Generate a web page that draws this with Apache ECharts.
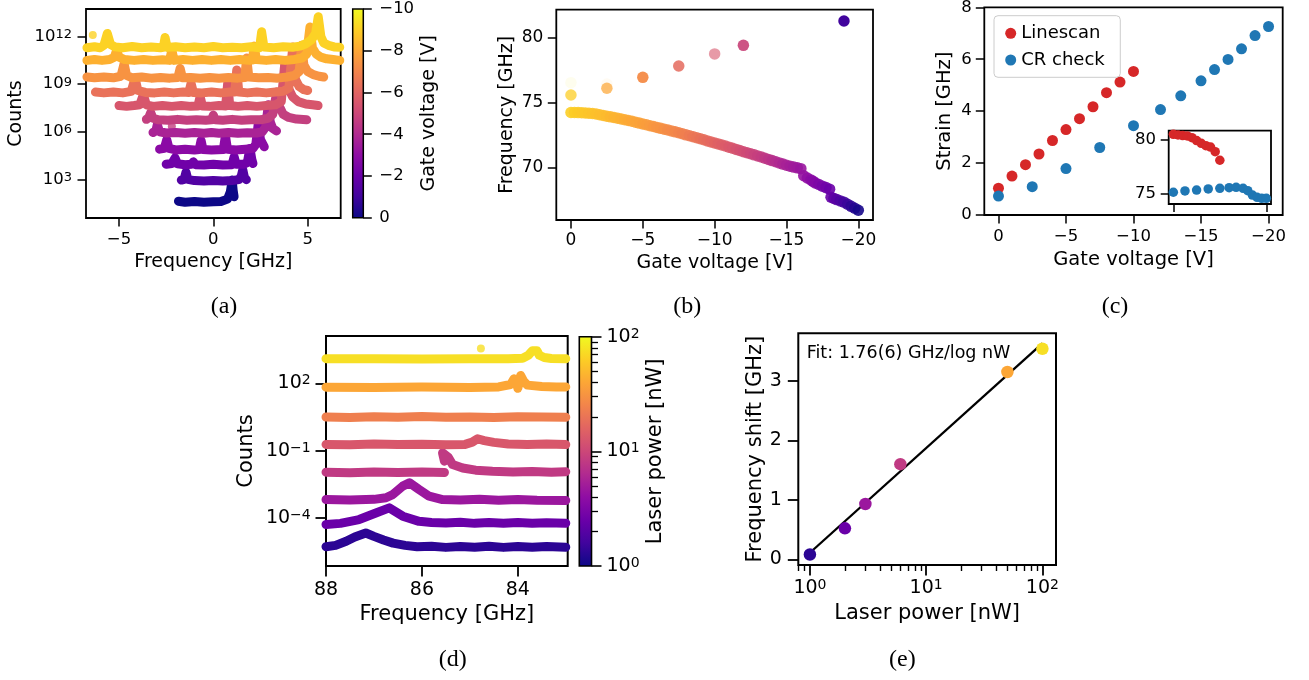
<!DOCTYPE html>
<html><head><meta charset="utf-8">
<script src="https://cdn.jsdelivr.net/npm/echarts@6/dist/echarts.min.js"></script>
<style>html,body{margin:0;padding:0;background:#fff}#c{width:1309px;height:680px}</style>
</head><body><div id="c"></div><script>
// ---------------- DATA ----------------
// (a) spectra: gate voltage per trace (top -> bottom), points [frequency GHz, log10(counts)]
const aGateV = [-10, -9, -8, -7, -6, -5, -4, -3, -2, -1, 0];
const aTraces = [
 [[-6.7,11.3],[-6.3,11.36],[-6.0,11.3],[-5.8,11.45],[-5.62,12.2],[-5.45,11.5],[-5.2,11.35],[-4.8,11.3],[-4.3,11.37],[-3.8,11.3],[-3.3,11.34],[-2.8,11.3],[-2.65,11.32],[-2.56,11.95],[-2.45,11.32],[-2.0,11.36],[-1.5,11.3],[-1.0,11.35],[-0.5,11.3],[0,11.37],[0.5,11.3],[1.0,11.33],[1.5,11.3],[2.0,11.36],[2.45,11.3],[2.56,12.3],[2.68,11.35],[3.2,11.3],[3.7,11.36],[4.2,11.33],[4.6,11.4],[4.9,11.55],[5.2,11.8],[5.42,12.2],[5.56,13.25],[5.7,12.0],[5.85,11.6],[6.1,11.45],[6.4,11.35],[6.7,11.33]],
 [[-6.7,10.5],[-6.3,10.56],[-5.9,10.5],[-5.5,10.55],[-5.25,10.7],[-5.12,11.15],[-5.0,10.7],[-4.7,10.55],[-4.2,10.5],[-3.7,10.56],[-3.2,10.5],[-2.7,10.54],[-2.32,10.5],[-2.2,11.15],[-2.08,10.5],[-1.6,10.55],[-1.1,10.5],[-0.6,10.55],[-0.1,10.5],[0.4,10.55],[0.9,10.5],[1.4,10.55],[1.9,10.5],[2.06,10.52],[2.17,11.4],[2.28,10.55],[2.8,10.5],[3.3,10.55],[3.8,10.5],[4.3,10.56],[4.7,10.65],[4.95,10.9],[5.12,12.6],[5.25,11.3],[5.45,10.9],[5.7,10.7],[6.0,10.6],[6.35,10.55],[6.7,10.5]],
 [[-6.7,9.45],[-6.3,9.4],[-5.8,9.45],[-5.3,9.4],[-4.9,9.5],[-4.73,10.3],[-4.6,9.55],[-4.3,9.4],[-3.8,9.45],[-3.3,9.38],[-2.8,9.42],[-2.3,9.38],[-1.88,9.42],[-1.76,10.0],[-1.64,9.4],[-1.2,9.42],[-0.7,9.38],[-0.2,9.42],[0.3,9.38],[0.8,9.42],[1.3,9.38],[1.66,9.42],[1.77,10.65],[1.88,9.45],[2.4,9.4],[2.9,9.42],[3.4,9.38],[3.9,9.45],[4.3,9.55],[4.55,9.8],[4.68,11.45],[4.8,10.2],[5.0,9.8],[5.3,9.6],[5.6,9.5],[5.85,9.45]],
 [[-6.25,8.5],[-5.8,8.45],[-5.3,8.5],[-4.8,8.45],[-4.35,8.55],[-4.15,9.38],[-4.0,8.6],[-3.6,8.48],[-3.1,8.45],[-2.6,8.5],[-2.1,8.45],[-1.6,8.5],[-1.3,8.48],[-1.18,9.06],[-1.06,8.48],[-0.6,8.45],[-0.1,8.5],[0.4,8.45],[0.9,8.5],[1.13,8.5],[1.24,9.9],[1.35,8.5],[1.8,8.45],[2.3,8.5],[2.8,8.45],[3.3,8.5],[3.7,8.55],[4.0,8.75],[4.21,11.35],[4.35,9.3],[4.55,8.85],[4.8,8.65],[5.0,8.6]],
 [[-5.0,7.65],[-4.6,7.6],[-4.2,7.65],[-3.9,7.7],[-3.71,8.33],[-3.55,7.7],[-3.2,7.6],[-2.7,7.65],[-2.2,7.6],[-1.7,7.65],[-1.2,7.6],[-0.82,7.62],[-0.7,8.22],[-0.58,7.62],[-0.2,7.6],[0.3,7.65],[0.65,7.62],[0.76,9.06],[0.87,7.65],[1.3,7.6],[1.8,7.65],[2.3,7.6],[2.8,7.65],[3.3,7.7],[3.6,7.9],[3.8,10.5],[3.95,8.8],[4.2,8.2],[4.5,7.9],[4.9,7.75],[5.25,7.7],[5.55,7.65]],
 [[-3.55,6.78],[-3.42,6.9],[-3.32,7.2],[-3.2,6.85],[-2.9,6.75],[-2.4,6.72],[-1.9,6.78],[-1.4,6.72],[-0.9,6.76],[-0.4,6.72],[-0.1,6.75],[0.0,7.05],[0.1,6.76],[0.5,6.72],[1.0,6.78],[1.5,6.72],[2.0,6.76],[2.5,6.75],[2.9,6.85],[3.15,7.1],[3.36,8.5],[3.5,7.6],[3.7,7.1],[4.0,6.9],[4.4,6.8],[4.95,6.75]],
 [[-3.2,5.95],[-3.05,6.05],[-2.97,6.45],[-2.85,6.0],[-2.5,5.92],[-2.0,5.95],[-1.5,5.9],[-1.0,5.95],[-0.5,5.9],[-0.1,5.95],[0.3,5.9],[0.8,5.95],[1.3,5.9],[1.8,5.93],[2.3,5.92],[2.6,6.0],[2.78,6.3],[2.91,7.7],[3.02,6.6],[3.15,6.2],[3.35,6.05]],
 [[-2.85,4.9],[-2.6,4.95],[-2.47,5.5],[-2.35,4.95],[-2.0,4.85],[-1.5,4.9],[-1.0,4.85],[-0.75,4.88],[-0.65,5.45],[-0.55,4.88],[-0.1,4.85],[0.53,4.88],[0.64,5.75],[0.75,4.9],[1.2,4.85],[1.7,4.9],[2.1,4.95],[2.25,5.2],[2.38,6.5],[2.5,5.5],[2.7,5.05]],
 [[-2.5,3.95],[-2.2,4.0],[-2.03,4.35],[-1.9,3.98],[-1.5,3.92],[-1.15,3.95],[-1.06,4.1],[-0.95,3.92],[-0.5,3.9],[0.0,3.95],[0.5,3.9],[0.99,3.92],[1.1,4.42],[1.21,3.95],[1.6,3.95],[1.8,4.05],[1.94,4.95],[2.04,4.25],[2.1,4.0]],
 [[-1.7,2.95],[-1.55,3.0],[-1.45,3.45],[-1.35,3.0],[-1.0,2.92],[-0.5,2.9],[0.0,2.93],[0.5,2.9],[1.0,2.92],[1.35,2.98],[1.48,3.2],[1.56,3.6],[1.65,3.1],[1.75,2.98]],
 [[-1.85,1.62],[-1.5,1.55],[-1.0,1.6],[-0.5,1.55],[0.0,1.58],[0.4,1.6],[0.75,1.75],[0.9,2.2],[1.0,2.95],[1.05,2.3],[1.1,1.9]]
];
const aOutliers = [[-6.39, 12.1], [-2.2, 6.35]];
const aOutlierTrace = [0, 5];
const aXTicks = [-5, 0, 5];
const aYTicks = [1e3, 1e6, 1e9, 1e12];
const aCbTicks = [-10, -8, -6, -4, -2, 0];

// (b) main branch [gate voltage V, frequency GHz]
const bMain = [
 [0,74.22],[-0.25,74.22],[-0.5,74.21],[-0.75,74.2],[-1,74.18],[-1.25,74.16],[-1.5,74.14],[-1.75,74.1],[-2,74.05],[-2.25,73.99],[-2.5,73.93],[-2.75,73.88],[-3,73.83],[-3.25,73.78],[-3.5,73.72],[-3.75,73.66],[-4,73.6],[-4.25,73.54],[-4.5,73.47],[-4.75,73.4],[-5,73.33],[-5.25,73.27],[-5.5,73.2],[-5.75,73.14],[-6,73.07],[-6.25,73.0],[-6.5,72.93],[-6.75,72.87],[-7,72.8],[-7.25,72.73],[-7.5,72.66],[-7.75,72.58],[-8,72.5],[-8.25,72.43],[-8.5,72.35],[-8.75,72.28],[-9,72.2],[-9.25,72.12],[-9.5,72.03],[-9.75,71.95],[-10,71.87],[-10.25,71.8],[-10.5,71.72],[-10.75,71.64],[-11,71.55],[-11.25,71.47],[-11.5,71.38],[-11.75,71.29],[-12,71.2],[-12.25,71.12],[-12.5,71.04],[-12.75,70.96],[-13,70.87],[-13.25,70.79],[-13.5,70.7],[-13.75,70.61],[-14,70.52],[-14.25,70.43],[-14.5,70.34],[-14.75,70.25],[-15,70.16],[-15.25,70.09],[-15.5,70.02],[-15.75,69.96],[-16,69.9],[-16.2,69.35],[-16.45,69.18],[-16.7,69.03],[-16.85,68.92],[-17,68.8],[-17.25,68.68],[-17.5,68.55],[-17.75,68.44],[-18,68.32],[-18.1,67.7],[-18.3,67.6],[-18.5,67.52],[-18.75,67.42],[-19,67.32],[-19.25,67.16],[-19.5,67.0],[-19.75,66.85],[-20,66.7]
];
// colour value (0..1 of the plasma map) read at gate voltages along the main branch
const bColorAnchors = [[0,0.9],[-2.5,0.85],[-5,0.78],[-7.5,0.7],[-10,0.6],[-12,0.52],[-13.5,0.45],[-15,0.37],[-16,0.33],[-17,0.27],[-18,0.2],[-19,0.11],[-20,0.02]];
// (b) upper branch [gate voltage V, frequency GHz, colour value]
const bUpper = [[0,76.51,0.95],[0,75.56,0.9],[-2.5,76.4,0.85],[-2.5,76.08,0.8],[-5,76.92,0.72],[-7.5,77.79,0.62],[-10,78.72,0.55],[-12,79.38,0.49],[-19,81.25,0.1]];
const bUpperWeight = [0.08, 0.75, 0.06, 0.72, 0.95, 0.85, 0.6, 0.92, 1];
const bXTicks = [0, -5, -10, -15, -20];
const bYTicks = [70, 75, 80];

// (c)
const cLineV = [0,-1,-2,-3,-4,-5,-6,-7,-8,-9,-10];
const cLineStrain = [1.03,1.5,1.94,2.35,2.87,3.29,3.71,4.17,4.71,5.12,5.53];
const cCrV = [0,-2.5,-5,-7.5,-10,-12,-13.5,-15,-16,-17,-18,-19,-20];
const cCrStrain = [0.73,1.09,1.79,2.6,3.44,4.06,4.59,5.17,5.6,5.99,6.4,6.91,7.26];
const cInsetLineFreq = [80.53,80.47,80.41,80.38,80.22,79.94,79.69,79.47,79.34,78.9,78.1];
const cInsetCrFreq = [75.1,75.22,75.31,75.41,75.47,75.53,75.56,75.47,75.25,74.84,74.63,74.53,74.53];
const cXTicks = [0, -5, -10, -15, -20];
const cYTicks = [0, 2, 4, 6, 8];
const cInsetXTicks = [0, -20];
const cInsetYTicks = [75, 80];

// (d) laser power per trace (bottom -> top), points [frequency GHz, log10(counts)], null = gap
const dPower = [1, 2, 3, 6, 10, 20, 50, 100];
const dTraces = [
 [[88,-5.28],[87.8,-5.22],[87.58,-5.04],[87.4,-4.85],[87.17,-4.67],[87.0,-4.82],[86.8,-4.98],[86.6,-5.12],[86.35,-5.22],[86.1,-5.28],[85.8,-5.26],[85.5,-5.31],[85.2,-5.27],[84.9,-5.3],[84.6,-5.26],[84.3,-5.31],[84.0,-5.27],[83.7,-5.3],[83.4,-5.27],[83.0,-5.3]],
 [[88,-4.29],[87.7,-4.24],[87.31,-4.07],[86.96,-3.78],[86.68,-3.55],[86.4,-3.92],[86.06,-4.15],[85.8,-4.2],[85.5,-4.22],[85.2,-4.19],[84.9,-4.24],[84.6,-4.2],[84.3,-4.23],[84.0,-4.2],[83.7,-4.24],[83.4,-4.21],[83.0,-4.23]],
 [[88,-3.18],[87.5,-3.2],[87.0,-3.17],[86.75,-3.1],[86.61,-2.96],[86.4,-2.58],[86.26,-2.43],[86.06,-2.73],[85.85,-3.03],[85.57,-3.18],[85.2,-3.2],[84.8,-3.17],[84.4,-3.21],[84.0,-3.18],[83.6,-3.21],[83.0,-3.22]],
 [[88,-1.96],[87.5,-1.98],[87.0,-1.95],[86.5,-1.97],[86.0,-1.95],[85.53,-1.97],null,[85.53,-1.47],[85.57,-1.1],[85.45,-1.3],[85.36,-1.62],[85.15,-1.77],[84.88,-1.87],[84.53,-1.92],[84.1,-1.95],[83.7,-1.93],[83.3,-1.96],[83.0,-1.94]],
 [[88,-0.72],[87.5,-0.74],[87.0,-0.7],[86.5,-0.73],[86.0,-0.71],[85.5,-0.74],[85.1,-0.72],[84.95,-0.62],[84.84,-0.47],[84.7,-0.55],[84.5,-0.63],[84.2,-0.7],[83.8,-0.72],[83.4,-0.7],[83.0,-0.73]],
 [[88,0.5],[87.5,0.48],[87.0,0.51],[86.5,0.49],[86.0,0.52],[85.5,0.49],[85.0,0.5],[84.5,0.48],[84.0,0.51],[83.5,0.5],[83.0,0.49]],
 [[88,1.83],[87.0,1.82],[86.0,1.84],[85.0,1.82],[84.4,1.84],[84.15,1.95],[84.08,2.2],[84.02,2.05],[84.0,1.78],[83.97,2.05],[83.94,2.35],[83.88,2.1],[83.8,1.92],[83.5,1.86],[83.2,1.84],[83.0,1.84]],
 [[88,3.1],[87,3.1],[86,3.09],[85,3.1],[84.2,3.1],[83.9,3.12],[83.78,3.25],[83.7,3.45],[83.66,3.52],[83.6,3.45],[83.55,3.25],[83.45,3.15],[83.3,3.11],[83.0,3.1]]
];
const dOutliers = [[84.77, 3.55]];
const dOutlierTrace = [7];
const dXTicks = [88, 86, 84];
const dYTicks = [1e-4, 1e-1, 1e2];
const dCbTicks = [1, 10, 100];
const dCbMinor = [2,3,4,5,6,7,8,9,20,30,40,50,60,70,80,90];

// (e)
const ePower = [1, 2, 3, 6, 50, 100];
const eShift = [0.08, 0.52, 0.93, 1.6, 3.15, 3.54];
const eFit = [[1, 0.11], [100, 3.63]];
const eFitText = 'Fit: 1.76(6) GHz/log nW';
const eXTicks = [1, 10, 100];
const eXMinor = [0.8,0.9,2,3,4,5,6,7,8,9,20,30,40,50,60,70,80,90];
const eYTicks = [0, 1, 2, 3];

// ---------------- STYLE ----------------
const F = 'DejaVu Sans';
const MINUS = '\u2212';
const PLASMA = ['#0d0887','#41049d','#6a00a8','#8f0da4','#b12a90','#cc4778','#e16462','#f2844b','#fca636','#fcce25','#f0f921'];
const A_COL = ['#fcd225','#fdb030','#f79342','#e9725a','#d7566c','#c3407f','#a92395','#8b0aa5','#7001a8','#5202a3','#0d0887'];
const D_COL = ['#2c0594','#6a00a8','#9b179e','#c03a83','#d8576b','#ef7f4f','#fca636','#f7df25'];
const E_COL = ['#2c0594','#6a00a8','#9b179e','#c03a83','#fca636','#f7df25'];
function hex2rgb(h){return [parseInt(h.slice(1,3),16),parseInt(h.slice(3,5),16),parseInt(h.slice(5,7),16)];}
function plasma(t){t=Math.max(0,Math.min(1,t));const s=t*10;const i=Math.min(9,Math.floor(s));const f=s-i;const a=hex2rgb(PLASMA[i]),b=hex2rgb(PLASMA[i+1]);return 'rgb('+a.map((v,k)=>Math.round(v+(b[k]-v)*f)).join(',')+')';}
function colorValueAt(v){ const A=bColorAnchors; for(let k=0;k<A.length-1;k++){ if(v<=A[k][0] && v>=A[k+1][0]){ const f=(v-A[k][0])/(A[k+1][0]-A[k][0]); return A[k][1]+(A[k+1][1]-A[k][1])*f; } } return A[A.length-1][1]; }
const fmtLin = v => (v < 0 ? MINUS + Math.abs(v) : String(v));
const fmtPow = v => { const e = Math.round(Math.log10(v)); return '{b|10}{s|' + (e < 0 ? MINUS + (-e) : e) + '}'; };
function tick(vals, len, w){ return {show:true, inside:false, customValues:vals, length:len, lineStyle:{color:'#000', width:w}}; }
function lab(vals, size, margin, fmt){ return {show:true, customValues:vals, fontSize:size, fontFamily:F, color:'#000', margin:margin, formatter:fmt,
  rich:{b:{fontSize:size,fontFamily:F,color:'#000'}, s:{fontSize:Math.round(size*0.76),fontFamily:F,color:'#000',verticalAlign:'top'}}}; }
function ax(o){ return Object.assign({axisLine:{show:false, onZero:false}, splitLine:{show:false}, nameMoveOverlap:false, nameLocation:'middle', silent:true}, o); }
function ns(size){ return {fontSize:size, fontFamily:F, color:'#000'}; }
function grid(l,t,w,h,bw,bg){ return {left:l, top:t, width:w, height:h, show:true, borderColor:'#000', borderWidth:bw, backgroundColor:bg||'rgba(0,0,0,0)', containLabel:false, outerBoundsMode:'none'}; }
function hidden(gi){ return {gridIndex:gi, type:'value', show:false, min:0, max:1, axisLine:{onZero:false}}; }
function splitSeg(arr){ const out=[[]]; arr.forEach(p=>{ if(p===null) out.push([]); else out[out.length-1].push(p); }); return out; }
const pow10 = p => [p[0], Math.pow(10, p[1])];

const grids = [
  grid(86, 9, 254.7, 209, 1.8),          // 0 a
  grid(352.7, 9, 10.6, 208.7, 1.5),      // 1 a colorbar
  grid(556.3, 9.7, 316.7, 210.3, 1.8),   // 2 b
  grid(984.3, 7.3, 298.4, 207.7, 1.8),   // 3 c
  grid(1168.7, 130.7, 102.3, 73.3, 1.8, '#fff'), // 4 c inset
  grid(326, 336, 241.7, 230, 2),         // 5 d
  grid(579.3, 336.7, 12.2, 229.3, 1.6),  // 6 d colorbar
  grid(798.3, 333.3, 257.7, 231.7, 2)    // 7 e
];

const xAxes = [
  ax({gridIndex:0, type:'value', min:-6.75, max:6.75, axisTick:tick(aXTicks,8.5,1.5), axisLabel:lab(aXTicks,16.5,13,fmtLin), name:'Frequency [GHz]', nameGap:35, nameTextStyle:ns(19)}),
  hidden(1),
  ax({gridIndex:2, type:'value', min:-21.02, max:1.02, inverse:true, axisTick:tick(bXTicks,8.5,1.5), axisLabel:lab(bXTicks,17,12,fmtLin), name:'Gate voltage [V]', nameGap:34, nameTextStyle:ns(19)}),
  ax({gridIndex:3, type:'value', min:-21.05, max:1.05, inverse:true, axisTick:tick(cXTicks,8.5,1.5), axisLabel:lab(cXTicks,16.5,13.5,fmtLin), name:'Gate voltage [V]', nameGap:35, nameTextStyle:ns(19.5)}),
  ax({gridIndex:4, type:'value', min:-21, max:1, inverse:true, axisTick:tick(cInsetXTicks,8,1.5), axisLabel:{show:false}}),
  ax({gridIndex:5, type:'value', min:82.96, max:88, inverse:true, axisTick:tick(dXTicks,10.5,1.8), axisLabel:lab(dXTicks,19,14.5,fmtLin), name:'Frequency [GHz]', nameGap:38.5, nameTextStyle:ns(21)}),
  hidden(6),
  ax({gridIndex:7, type:'log', logBase:10, min:Math.pow(10,-0.1), max:Math.pow(10,2.117), axisTick:tick(eXTicks,10.5,1.8), axisLabel:lab(eXTicks,19,13.5,fmtPow), name:'Laser power [nW]', nameGap:38, nameTextStyle:ns(21)}),
  ax({gridIndex:7, type:'log', logBase:10, position:'bottom', min:Math.pow(10,-0.1), max:Math.pow(10,2.117), axisTick:tick(eXMinor,6,1.4), axisLabel:{show:false}})
];
const yAxes = [
  ax({gridIndex:0, type:'log', logBase:10, min:Math.pow(10,0.56), max:Math.pow(10,13.74), axisTick:tick(aYTicks,8.5,1.5), axisLabel:lab(aYTicks,16.5,14,fmtPow), name:'Counts', nameGap:60, nameTextStyle:ns(19)}),
  ax({gridIndex:1, type:'value', position:'right', min:-10, max:0, inverse:true, axisTick:tick(aCbTicks,8.5,1.5), axisLabel:lab(aCbTicks,16.5,16,fmtLin), name:'Gate voltage [V]', nameGap:56, nameTextStyle:ns(19)}),
  ax({gridIndex:2, type:'value', min:65.95, max:82.12, axisTick:tick(bYTicks,8.5,1.5), axisLabel:lab(bYTicks,17,13,fmtLin), name:'Frequency [GHz]', nameGap:40, nameTextStyle:ns(19)}),
  ax({gridIndex:3, type:'value', min:0, max:8, axisTick:tick(cYTicks,8.5,1.5), axisLabel:lab(cYTicks,16.5,12.6,fmtLin), name:'Strain [GHz]', nameGap:29.5, nameTextStyle:ns(19.5)}),
  ax({gridIndex:4, type:'value', min:74.0, max:80.87, axisTick:tick(cInsetYTicks,8,1.5), axisLabel:lab(cInsetYTicks,16.5,12.7,fmtLin)}),
  ax({gridIndex:5, type:'log', logBase:10, min:Math.pow(10,-6.14), max:Math.pow(10,4.11), axisTick:tick(dYTicks,10.5,1.8), axisLabel:lab(dYTicks,19,15.3,fmtPow), name:'Counts', nameGap:69, nameTextStyle:ns(21)}),
  ax({gridIndex:6, type:'log', logBase:10, position:'right', min:1, max:100, axisTick:tick(dCbTicks,10,1.6), axisLabel:lab(dCbTicks,19,15,fmtPow), name:'Laser power [nW]', nameGap:54, nameTextStyle:ns(21)}),
  ax({gridIndex:6, type:'log', logBase:10, position:'right', min:1, max:100, axisTick:tick(dCbMinor,6.5,1.3), axisLabel:{show:false}}),
  ax({gridIndex:7, type:'value', min:-0.096, max:3.8, axisTick:tick(eYTicks,10.5,1.8), axisLabel:lab(eYTicks,19,16.5,fmtLin), name:'Frequency shift [GHz]', nameGap:32, nameTextStyle:ns(21)})
];

const series = [];
// (a)
for (let i = aTraces.length - 1; i >= 0; i--) {
  series.push({type:'line', name:'V = ' + aGateV[i], xAxisIndex:0, yAxisIndex:0, data:aTraces[i].map(pow10), symbol:'none', showSymbol:false,
    lineStyle:{width:9, color:A_COL[i], cap:'round', join:'round'}, silent:true, animation:false});
}
series.push({type:'scatter', xAxisIndex:0, yAxisIndex:0, symbolSize:8, silent:true, animation:false,
  data:aOutliers.map((p,k)=>({value:pow10(p), itemStyle:{color:A_COL[aOutlierTrace[k]]}}))});
// (b)
series.push({type:'scatter', xAxisIndex:2, yAxisIndex:2, symbolSize:11.5, silent:true, animation:false,
  data:bMain.map(p=>({value:[p[0],p[1]], itemStyle:{color:plasma(colorValueAt(p[0])), opacity:0.9}}))});
series.push({type:'scatter', xAxisIndex:2, yAxisIndex:2, symbolSize:11.5, silent:true, animation:false,
  data:bUpper.map((p,k)=>({value:[p[0],p[1]], itemStyle:{color:plasma(p[2]), opacity:bUpperWeight[k]}}))});
// (c)
series.push({type:'scatter', name:'Linescan', xAxisIndex:3, yAxisIndex:3, symbolSize:11, itemStyle:{color:'#d62728', opacity:1}, silent:true, animation:false,
  data:cLineV.map((v,k)=>[v,cLineStrain[k]])});
series.push({type:'scatter', name:'CR check', xAxisIndex:3, yAxisIndex:3, symbolSize:11, itemStyle:{color:'#1f77b4', opacity:1}, silent:true, animation:false,
  data:cCrV.map((v,k)=>[v,cCrStrain[k]])});
series.push({type:'scatter', name:'inset-linescan', xAxisIndex:4, yAxisIndex:4, symbolSize:9.5, itemStyle:{color:'#d62728', opacity:1}, silent:true, animation:false, z:5,
  data:cLineV.map((v,k)=>[v,cInsetLineFreq[k]])});
series.push({type:'scatter', name:'inset-cr', xAxisIndex:4, yAxisIndex:4, symbolSize:9.5, itemStyle:{color:'#1f77b4', opacity:1}, silent:true, animation:false, z:5,
  data:cCrV.map((v,k)=>[v,cInsetCrFreq[k]])});
// (d)
dTraces.forEach((tr,i)=>{
  splitSeg(tr).forEach(seg=>{
    series.push({type:'line', name:dPower[i]+' nW', xAxisIndex:5, yAxisIndex:5, data:seg.map(pow10), symbol:'none', showSymbol:false,
      lineStyle:{width:9, color:D_COL[i], cap:'round', join:'round'}, silent:true, animation:false});
  });
});
series.push({type:'scatter', xAxisIndex:5, yAxisIndex:5, symbolSize:8, silent:true, animation:false,
  data:dOutliers.map((p,k)=>({value:pow10(p), itemStyle:{color:D_COL[dOutlierTrace[k]]}}))});
// (e)
series.push({type:'line', xAxisIndex:7, yAxisIndex:8, data:eFit, symbol:'none', showSymbol:false, lineStyle:{color:'#000', width:2.3}, silent:true, animation:false});
series.push({type:'scatter', xAxisIndex:7, yAxisIndex:8, symbolSize:12.5, silent:true, animation:false, z:4,
  data:ePower.map((p,k)=>({value:[p,eShift[k]], itemStyle:{color:E_COL[k], opacity:1}}))});

const cbStops = PLASMA.slice().reverse().map((c,i)=>({offset:i/10, color:c}));
function panelLabel(t,x,y){ return {type:'text', x:x, y:y, silent:true, style:{text:t, fontSize:24, fontFamily:'Liberation Serif', fill:'#000', align:'center', verticalAlign:'middle'}}; }
const graphic = [
  {type:'rect', z:-1, silent:true, shape:{x:352.7, y:9, width:10.6, height:208.7}, style:{fill:new echarts.graphic.LinearGradient(0,0,0,1,cbStops)}},
  {type:'rect', z:-1, silent:true, shape:{x:579.3, y:336.7, width:12.2, height:229.3}, style:{fill:new echarts.graphic.LinearGradient(0,0,0,1,cbStops)}},
  {type:'text', x:806.7, y:353.3, silent:true, style:{text:eFitText, fontSize:17.5, fontFamily:F, fill:'#000', align:'left', verticalAlign:'middle'}},
  panelLabel('(a)', 224, 306.7), panelLabel('(b)', 687.3, 306.7), panelLabel('(c)', 1115, 306.7),
  panelLabel('(d)', 452.7, 660), panelLabel('(e)', 902.3, 660)
];

const chart = echarts.init(document.getElementById('c'), null, {renderer:'canvas', width:1309, height:680});
chart.setOption({
  animation:false,
  backgroundColor:'#fff',
  textStyle:{fontFamily:F},
  grid:grids, xAxis:xAxes, yAxis:yAxes, series:series, graphic:graphic,
  legend:{data:['Linescan','CR check'], left:994, top:15.7, orient:'vertical', icon:'circle', itemWidth:11, itemHeight:11, itemGap:6.7,
    padding:[7.6,15.6,7.3,11.2], borderColor:'#cccccc', borderWidth:1, borderRadius:4, backgroundColor:'rgba(255,255,255,0.8)',
    textStyle:{fontSize:18, fontFamily:F, color:'#000', lineHeight:20}, selectedMode:false}
});
</script></body></html>
